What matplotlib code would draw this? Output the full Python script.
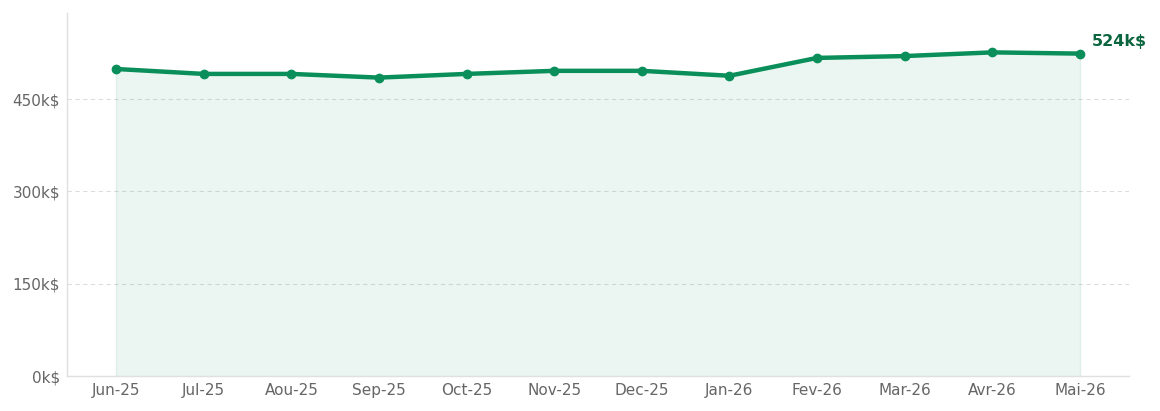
import matplotlib
matplotlib.use('Agg')
import matplotlib.pyplot as plt
from matplotlib.ticker import FuncFormatter

# Monthly values in k$
months = ['Jun-25', 'Jul-25', 'Aou-25', 'Sep-25', 'Oct-25', 'Nov-25',
          'Dec-25', 'Jan-26', 'Fev-26', 'Mar-26', 'Avr-26', 'Mai-26']
values = [499, 491, 491, 485, 491, 496, 496, 488, 517, 520, 526, 524]
y_ticks = [0, 150, 300, 450]

LINE_COLOR = '#0a8f5a'
LABEL_COLOR = '#0b6640'
TICK_COLOR = '#666666'

fig = plt.figure(figsize=(11.6, 4.11), dpi=100)
ax = fig.add_axes([67 / 1160, 35 / 411, (1129 - 67) / 1160, (376 - 13) / 411])

x = list(range(len(months)))
ax.fill_between(x, values, 0, color=LINE_COLOR, alpha=0.08, linewidth=0)
ax.plot([x[0], x[0]], [0, values[0]], color=LINE_COLOR, alpha=0.1, linewidth=1)
ax.plot([x[-1], x[-1]], [0, values[-1]], color=LINE_COLOR, alpha=0.1, linewidth=1)
ax.plot(x, values, color=LINE_COLOR, linewidth=3.2, marker='o', markersize=6,
        solid_capstyle='round', zorder=3)

ax.annotate(f"{values[-1]}k$", (x[-1], values[-1]), xytext=(8.5, 8.5),
            textcoords='offset points', color=LABEL_COLOR, fontsize=11.5,
            fontweight='bold', ha='left', va='center')

ax.set_xlim(-0.56, 11.56)
ax.set_ylim(0, 590)
ax.set_xticks(x)
ax.set_xticklabels(months)
ax.set_yticks(y_ticks)
ax.yaxis.set_major_formatter(FuncFormatter(lambda v, p: f"{int(v)}k$"))
ax.tick_params(axis='both', colors=TICK_COLOR, labelsize=11, length=0, pad=5)

ax.grid(axis='y', color='#dddddd', linestyle=(0, (4, 3)), linewidth=0.8)
ax.set_axisbelow(True)
for side in ['top', 'right']:
    ax.spines[side].set_visible(False)
for side in ['left', 'bottom']:
    ax.spines[side].set_color('#e0e0e0')
    ax.spines[side].set_linewidth(1)

fig.savefig('out.png', dpi=100)
